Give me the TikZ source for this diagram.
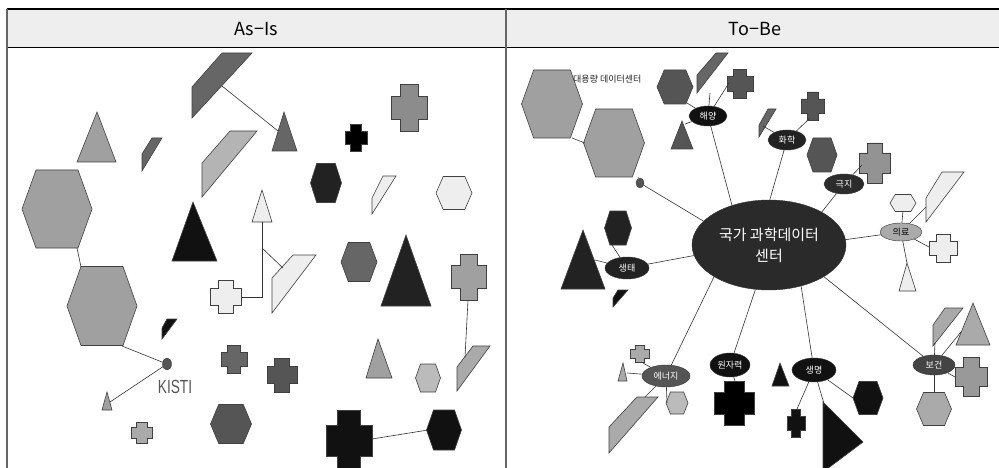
\documentclass[tikz,border=0pt]{standalone}
\usepackage{fontspec}
\setmainfont{Noto Sans CJK KR}
\newfontfamily\narrowfont{Liberation Sans}
\usetikzlibrary{shapes.geometric}

\definecolor{gA}{HTML}{A0A0A0}
\definecolor{gB}{HTML}{666666}
\definecolor{gC}{HTML}{555555}
\definecolor{gD}{HTML}{222222}
\definecolor{gE}{HTML}{EEEEEE}
\definecolor{gF}{HTML}{B4B4B4}
\definecolor{gG}{HTML}{AAAAAA}
\definecolor{gH}{HTML}{BBBBBB}
\definecolor{gK}{HTML}{111111}

\tikzset{
  shp/.style={draw=black!75, line width=0.6pt},
  link/.style={draw=black!80, line width=0.6pt},
  topic/.style={ellipse, draw=black!80, inner sep=0pt, text=white, font=\fontsize{9}{9}\selectfont},
}

% hexagon: name, x, y, width, height, fill
\newcommand{\hexshape}[6]{%
  \coordinate (#1) at (#2,#3);
  \filldraw[shp, fill=#6] (#2-#4/2,#3) -- (#2-0.3*#4,#3-#5/2) -- (#2+0.3*#4,#3-#5/2)
    -- (#2+#4/2,#3) -- (#2+0.3*#4,#3+#5/2) -- (#2-0.3*#4,#3+#5/2) -- cycle;}
% plus: name, x, y, width, height, fill
\newcommand{\plusshape}[6]{%
  \coordinate (#1) at (#2,#3);
  \filldraw[shp, fill=#6] (#2-#4/4,#3-#5/2) -- (#2+#4/4,#3-#5/2) -- (#2+#4/4,#3-#5/4)
    -- (#2+#4/2,#3-#5/4) -- (#2+#4/2,#3+#5/4) -- (#2+#4/4,#3+#5/4) -- (#2+#4/4,#3+#5/2)
    -- (#2-#4/4,#3+#5/2) -- (#2-#4/4,#3+#5/4) -- (#2-#4/2,#3+#5/4) -- (#2-#4/2,#3-#5/4)
    -- (#2-#4/4,#3-#5/4) -- cycle;}

\begin{document}
\begin{tikzpicture}[x=1pt,y=-1pt]
\useasboundingbox (0,0) rectangle (999,468);
\clip (0,0) rectangle (999,468);

% table frame
\fill[gE] (7,9) rectangle (1000,47);
\draw[line width=1.2pt] (7,9) -- (1000,9);
\draw[line width=0.9pt] (7,47) -- (1000,47);
\draw[gB, line width=1.4pt] (7,9) -- (7,470);
\draw[gB, line width=1.4pt] (506,9) -- (506,470);
\node (asis) at (256,29) {\fontsize{18}{18}\selectfont As−Is};
\node (tobe) at (755,29) {\fontsize{18}{18}\selectfont To−Be};

% ---- As-Is ----
\filldraw[shp, fill=gB] (222,53) -- (252,53) -- (192,118) -- (192,87) -- cycle;
\coordinate (paraTop) at (222,86);
\filldraw[shp, fill=gB] (284,112) -- (297,151) -- (272,151) -- cycle;
\coordinate (triTop) at (278,131);
\filldraw[shp, fill=gA] (97,112) -- (116,162) -- (77,162) -- cycle;
\filldraw[shp, fill=gB] (152,138) -- (162,138) -- (142,171) -- (142,154) -- cycle;
\filldraw[shp, fill=gF] (230,131) -- (257,131) -- (202,197) -- (202,163) -- cycle;
\plusshape{crsBlk}{356}{138}{22}{27}{black}
\plusshape{crsGry}{409}{108}{36}{47}{gray!90}
\hexshape{hexDk}{326}{183}{31}{39}{gD}
\filldraw[shp, fill=gE] (383,176) -- (396,176) -- (372,214) -- (372,198) -- cycle;
\hexshape{hexLt}{454}{193}{36}{33}{gE}
\hexshape{hexBig}{57}{209}{70}{78}{gA}
\filldraw[shp, fill=gE] (262,190) -- (272,222) -- (252,222) -- cycle;
\filldraw[shp, fill=gK] (193,202) -- (217,261) -- (172,261) -- cycle;
\filldraw[shp, fill=gE] (293,255) -- (316,255) -- (272,313) -- (272,278) -- cycle;
\plusshape{crsLt}{226}{297}{31}{33}{gE}
\hexshape{hexMid}{359}{262}{36}{39}{gB}
\filldraw[shp, fill=gD] (406,235) -- (431,306) -- (381,306) -- cycle;
\plusshape{crsR}{469}{277}{35}{46}{gA}
\filldraw[shp, fill=gG] (473,346) -- (490,346) -- (457,391) -- (457,367) -- cycle;
\hexshape{hexBig2}{102}{306}{70}{79}{gA}
\filldraw[shp, fill=gK] (167,319) -- (177,319) -- (162,339) -- (162,328) -- cycle;
\filldraw[shp, fill=gA] (107,392) -- (112,410) -- (102,410) -- cycle;
\plusshape{crsSm}{142}{433}{21}{21}{gG}
\hexshape{hexLow}{231}{424}{41}{39}{gC}
\plusshape{crsA}{234}{359}{26}{28}{gB}
\plusshape{crsB}{282}{375}{30}{34}{gC}
\filldraw[shp, fill=gA] (378,339) -- (392,378) -- (366,378) -- cycle;
\hexshape{hexSm}{428}{378}{25}{28}{gH}
\plusshape{crsBig}{349}{441}{46}{62}{gK}
\hexshape{hexBlk}{444}{430}{35}{40}{gK}
\node[ellipse, fill=gC, draw=black!80, minimum width=9pt, minimum height=12pt, inner sep=0pt] (kisti) at (167,364) {};
\node[text=gC, font=\narrowfont\fontsize{19}{19}\selectfont] (kistiLbl) at (175,387) {\scalebox{0.72}[1]{KISTI}};

% As-Is connectors
\coordinate (hexBigBot) at (77,248);
\coordinate (hexBig2Top) at (81,267);
\coordinate (hexBig2Bot) at (122,346);
\coordinate (triSmTop) at (110,402);
\coordinate (triLtBot) at (262,222);
\coordinate (crsLtR) at (242,297);
\coordinate (jnLt) at (262,248);
\coordinate (paraLt) at (283,268);
\coordinate (crsRBot) at (468,300);
\coordinate (paraR) at (465,357);
\coordinate (crsBigR) at (372,439);
\coordinate (hexBlkL) at (428,430);
\draw[link] (paraTop) -- (triTop);
\draw[link] (hexBigBot) -- (hexBig2Top);
\draw[link] (hexBig2Bot) -- (kisti);
\draw[link] (kisti) -- (triSmTop);
\draw[link] (triLtBot) |- (crsLtR);
\draw[link] (jnLt) -- (paraLt);
\draw[link] (crsRBot) -- (paraR);
\draw[link] (crsBigR) -- (hexBlkL);

% ---- To-Be ----
\hexshape{hexA}{552}{104}{61}{68}{gA}
\hexshape{hexB}{614}{143}{61}{68}{gA}
\node[anchor=west, text=gD, font=\fontsize{9}{9}\selectfont, inner sep=0pt] (bigdc) at (573,79) {대용량 데이터센터};
\node[ellipse, fill=gC, draw=black!80, minimum width=8pt, minimum height=10pt, inner sep=0pt] (dc) at (640,183) {};
\coordinate (hexABot) at (572,138);
\coordinate (hexBL) at (585,143);
\coordinate (hexBBot) at (638,177);
\draw[link] (hexABot) -- (hexBL);
\draw[link] (hexBBot) -- (dc);

% 해양 cluster
\hexshape{haeHex}{675}{87}{36}{34}{gC}
\filldraw[shp, fill=gB] (716,53) -- (728,53) -- (697,93) -- (697,75) -- cycle;
\plusshape{haeCrs}{740}{84}{26}{29}{gC}
\filldraw[shp, fill=gC] (682,121) -- (693,149) -- (671,149) -- cycle;
% 화학 cluster
\filldraw[shp, fill=gB] (768,109) -- (776,109) -- (759,137) -- (759,125) -- cycle;
\plusshape{hwaCrs}{813}{106}{23}{28}{gC}
\hexshape{hwaHex}{822}{155}{30}{34}{gC}
% 극지 cluster
\plusshape{geukCrs}{875}{163}{31}{40}{gray!85}
% 의료 cluster
\hexshape{uiHex}{903}{203}{26}{17}{gE}
\filldraw[shp, fill=gE] (942,172) -- (964,172) -- (926,222) -- (926,198) -- cycle;
\plusshape{uiCrs}{943}{248}{28}{28}{gE}
\filldraw[shp, fill=gE] (907,263) -- (916,291) -- (899,291) -- cycle;
% 생태 cluster
\filldraw[shp, fill=gD] (583,230) -- (605,289) -- (561,289) -- cycle;
\hexshape{sgHex}{618}{228}{27}{34}{gD}
\filldraw[shp, fill=gK] (618,290) -- (628,290) -- (613,307) -- (613,298) -- cycle;
% 에너지 cluster
\plusshape{enCrs}{640}{354}{19}{17}{gG}
\filldraw[shp, fill=gG] (623,363) -- (627,381) -- (618,381) -- cycle;
\hexshape{enHex}{677}{403}{22}{22}{gH}
\filldraw[shp, fill=gG] (637,397) -- (658,397) -- (609,453) -- (609,427) -- cycle;
% 원자력 cluster
\plusshape{wonCrs}{734}{403}{40}{44}{black}
% 생명 cluster
\filldraw[shp, fill=gK] (780,363) -- (789,386) -- (772,386) -- cycle;
\plusshape{lfCrs}{796}{423}{18}{28}{gK}
\filldraw[shp, fill=gK] (823,402) -- (863,442) -- (823,472) -- cycle;
\hexshape{lfHex}{868}{398}{30}{33}{gK}
% 보건 cluster
\filldraw[shp, fill=gG] (945,308) -- (963,308) -- (933,346) -- (933,325) -- cycle;
\filldraw[shp, fill=gG] (973,303) -- (990,345) -- (956,345) -- cycle;
\plusshape{bgCrs}{971}{377}{32}{39}{gray!80}
\hexshape{bgHex}{934}{409}{35}{33}{gG}

% centre and topics
\node[ellipse, fill=gD!85!gC, draw=black!80, minimum width=154pt, minimum height=90pt, inner sep=0pt,
  text=white, align=center, font=\fontsize{15}{21}\selectfont] (core) at (769,245) {국가 과학데이터\\센터};
\node[topic, fill=gK, minimum width=38pt, minimum height=20pt] (hae) at (708,116) {해양};
\node[topic, fill=gD, minimum width=38pt, minimum height=20pt] (hwa) at (787,140) {화학};
\node[topic, fill=gD!80!gC, minimum width=40pt, minimum height=20pt] (geuk) at (844,184) {극지};
\node[topic, fill=gG, text=black, minimum width=42pt, minimum height=18pt] (uiryo) at (901,232) {의료};
\node[topic, fill=gD, minimum width=44pt, minimum height=22pt] (saeng) at (627,268) {생태};
\node[topic, fill=gC, minimum width=48pt, minimum height=22pt] (ener) at (666,376) {에너지};
\node[topic, fill=gK, minimum width=40pt, minimum height=24pt] (won) at (730,365) {원자력};
\node[topic, fill=gK, minimum width=44pt, minimum height=24pt] (life) at (814,370) {생명};
\node[topic, fill=gC!80!black, minimum width=42pt, minimum height=20pt] (bogeon) at (934,365) {보건};

% centre connectors
\draw[link] (core.133) -- (hae);
\draw[link] (core.89) -- (hwa);
\draw[link] (core.32) -- (geuk);
\draw[link] (core.4) -- (uiryo);
\draw[link] (core.188) -- (saeng);
\draw[link] (core.210) -- (ener);
\draw[link] (core.253) -- (won);
\draw[link] (core.308) -- (life);
\draw[link] (core.330) -- (bogeon);
\draw[link] (core.160) -- (dc);

% topic connectors
\coordinate (haeHexE) at (687,103);
\coordinate (haePara) at (710,93);
\coordinate (haeCrsL) at (729,83);
\coordinate (haeTri) at (685,124);
\coordinate (hwaPara) at (763,126);
\coordinate (hwaCrsB) at (810,118);
\coordinate (geukCrsL) at (862,165);
\coordinate (uiHexB) at (903,211);
\coordinate (uiPara) at (926,207);
\coordinate (uiCrsL) at (929,247);
\coordinate (uiTri) at (907,263);
\coordinate (sgHexB) at (612,245);
\coordinate (sgTri) at (595,260);
\coordinate (enCrsB) at (643,363);
\coordinate (enTri) at (627,373);
\coordinate (enPara) at (645,397);
\coordinate (enHexL) at (667,403);
\coordinate (wonCrsT) at (735,381);
\coordinate (lfCrsT) at (797,409);
\coordinate (lfTri) at (825,407);
\coordinate (lfHexL) at (853,398);
\coordinate (bgPara) at (935,343);
\coordinate (bgTri) at (961,332);
\coordinate (bgCrsL) at (955,377);
\coordinate (bgHexT) at (934,392);
\draw[link] (hae) -- (haeHexE);
\draw[link] (hae) -- (haePara);
\draw[link] (hae) -- (haeCrsL);
\draw[link] (hae) -- (haeTri);
\draw[link] (hwa) -- (hwaPara);
\draw[link] (hwa) -- (hwaCrsB);
\draw[link] (geuk) -- (geukCrsL);
\draw[link] (uiryo) -- (uiHexB);
\draw[link] (uiryo) -- (uiPara);
\draw[link] (uiryo) -- (uiCrsL);
\draw[link] (uiryo) -- (uiTri);
\draw[link] (saeng) -- (sgHexB);
\draw[link] (saeng) -- (sgTri);
\draw[link] (ener) -- (enCrsB);
\draw[link] (ener) -- (enTri);
\draw[link] (ener) -- (enPara);
\draw[link] (ener) -- (enHexL);
\draw[link] (won) -- (wonCrsT);
\draw[link] (life) -- (lfCrsT);
\draw[link] (life) -- (lfTri);
\draw[link] (life) -- (lfHexL);
\draw[link] (bogeon) -- (bgPara);
\draw[link] (bogeon) -- (bgTri);
\draw[link] (bogeon) -- (bgCrsL);
\draw[link] (bogeon) -- (bgHexT);
\end{tikzpicture}
\end{document}
